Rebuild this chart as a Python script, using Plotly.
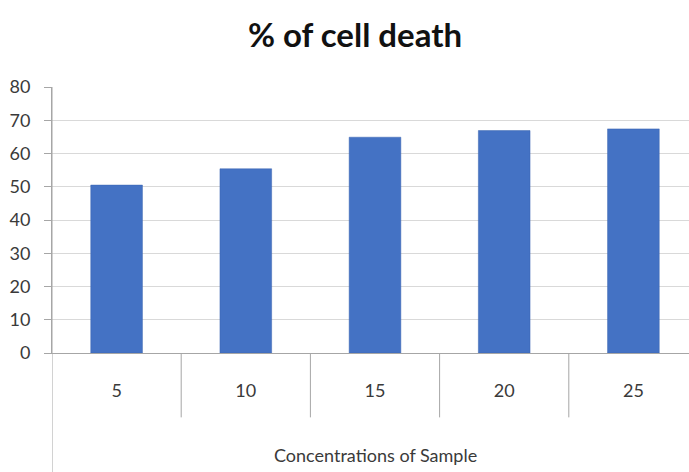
import plotly.graph_objects as go

# Cell death percentage by sample concentration
concentrations = ["5", "10", "15", "20", "25"]
cell_death_pct = [50.5, 55.4, 64.9, 66.9, 67.4]
y_ticks = [0, 10, 20, 30, 40, 50, 60, 70, 80]

bar_color = "#4472C4"
text_color = "#3a3a3a"
grid_color = "#d9d9d9"
axis_color = "#a6a6a6"

fig = go.Figure(
    go.Bar(
        x=list(range(len(concentrations))),
        y=cell_death_pct,
        marker=dict(color=bar_color, line=dict(color="#3a64b0", width=0.5)),
        width=0.4,
        hoverinfo="x+y",
    )
)

# Category separators below the baseline and the extended left axis line
shapes = []
for b in [0.5, 1.5, 2.5, 3.5]:
    shapes.append(dict(type="line", xref="x", yref="paper", x0=b, x1=b,
                       y0=0, y1=-0.242, line=dict(color=axis_color, width=1)))
shapes.append(dict(type="line", xref="x", yref="paper", x0=-0.5, x1=-0.5,
                   y0=1, y1=-0.46, line=dict(color=axis_color, width=1)))

fig.update_layout(
    width=689,
    height=472,
    margin=dict(l=52, r=0, t=87, b=119, pad=0),
    paper_bgcolor="white",
    plot_bgcolor="white",
    showlegend=False,
    font=dict(family="Lato, 'Open Sans', sans-serif", color=text_color),
    title=dict(
        text="<b>% of cell death</b>",
        x=355 / 689,
        xanchor="center",
        xref="container",
        y=1 - 35 / 472,
        yanchor="middle",
        yref="container",
        font=dict(size=33, color="#111111", family="Lato, 'Open Sans', sans-serif"),
    ),
    xaxis=dict(
        range=[-0.5, -0.5 + 637 / 129.2],
        tickmode="array",
        tickvals=list(range(len(concentrations))),
        ticktext=concentrations,
        ticks="",
        ticklabelstandoff=21,
        tickfont=dict(size=18, color=text_color),
        showgrid=False,
        zeroline=False,
        showline=True,
        linecolor=axis_color,
        linewidth=1,
        fixedrange=True,
    ),
    yaxis=dict(
        range=[0, 80],
        tickvals=y_ticks,
        ticks="outside",
        ticklen=7,
        tickcolor=axis_color,
        ticklabelstandoff=10,
        tickfont=dict(size=18, color=text_color),
        showgrid=True,
        gridcolor=grid_color,
        gridwidth=1,
        zeroline=False,
        showline=True,
        linecolor=axis_color,
        linewidth=1,
        fixedrange=True,
    ),
    shapes=shapes,
    annotations=[
        dict(
            text="Concentrations of Sample",
            xref="x",
            yref="paper",
            x=2,
            y=-0.384,
            xanchor="center",
            yanchor="middle",
            showarrow=False,
            font=dict(size=18, color=text_color),
        )
    ],
)

fig.write_html("out.html")
